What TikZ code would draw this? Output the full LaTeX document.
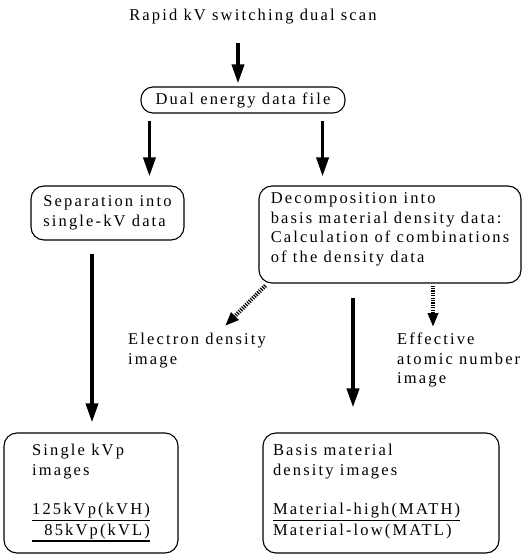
\documentclass[tikz,border=0pt]{standalone}
\usepackage{fontspec}
\setmainfont{Liberation Serif}[LetterSpace=13]
\usetikzlibrary{arrows.meta}
\newsavebox\ulbox
\newcommand\ulpair[2]{\sbox\ulbox{#1}\vtop{\hbox{\usebox\ulbox}\kern1.5pt\hrule height 1.2pt\kern3pt\hbox to \wd\ulbox{\hfill #2}\kern1.5pt\hrule height 1.2pt}}
\newcommand\ulone[2]{\vtop{\hbox{#1}\kern1.5pt\hrule height 1.2pt\kern3pt\hbox{#2}\kern2.7pt}}
\begin{document}
\begin{tikzpicture}[x=1pt,y=-1pt,
 every node/.style={font=\fontsize{16.5}{19.5}\selectfont, inner sep=0pt},
 box/.style={draw, line width=1.1pt, rounded corners=13pt, align=left},
 arr/.style={line width=3.6pt, -{Triangle[length=19pt,width=12pt]}},
 darr/.style={line width=4pt, dash pattern=on 1.2pt off 1.2pt, -{Triangle[length=14pt,width=10pt]}}]
\useasboundingbox (0,0) rectangle (524,556);
\node (title) at (253,17) {Rapid kV switching dual scan};
\node[box, rounded corners=12pt, minimum width=204pt, minimum height=26pt] (dual) at (243,100) {Dual energy data file};
\node[box, minimum width=153pt, minimum height=54pt] (sep) at (107.5,213) {Separation into\\single-kV data};
\node[box, minimum width=262pt, minimum height=97pt] (dec) at (390,234.5) {Decomposition into\\basis material density data:\\Calculation of combinations\\of the density data\rule[-14pt]{0pt}{0pt}};
\node[box, minimum width=174pt, minimum height=120pt] (bl) at (91,493) {Single kVp\\images\\[20pt]\ulpair{125kVp(kVH)}{85kVp(kVL)}};
\node[box, minimum width=236pt, minimum height=120pt] (br) at (381,493) {\makebox[216pt][l]{Basis material}\\density images\\[20pt]\ulone{Material-high(MATH)}{Material-low(MATL)}};
\node[align=left, anchor=north west] (elec) at (128,333) {Electron density\\image};
\node[align=left, anchor=north west] (eff) at (397,333) {Effective\\atomic number\\image};
\draw[arr, shorten <=18pt, shorten >=3pt] ([xshift=-15pt]title.south) -- ([xshift=-15pt]title.south |- dual.north);
\draw[arr, shorten <=7pt, shorten >=9pt] ([xshift=9pt]dual.south west) -- ([xshift=9pt]dual.south west |- sep.north);
\draw[arr, shorten <=7pt, shorten >=9pt] ([xshift=-23pt]dual.south east) -- ([xshift=-23pt]dual.south east |- dec.north);
\draw[arr, shorten <=13pt, shorten >=10pt] ([xshift=-15.5pt]sep.south) -- ([xshift=-15.5pt]sep.south |- bl.north);
\draw[arr, shorten <=14pt, shorten >=25pt] ([xshift=-37pt]dec.south) -- ([xshift=-37pt]dec.south |- br.north);
\draw[darr] ([shift={(7pt,-2pt)}]dec.south west) -- ([shift={(97pt,7pt)}]elec.north west);
\draw[darr, shorten <=2pt, shorten >=6pt] ([xshift=43pt]dec.south) -- ([xshift=43pt]dec.south |- eff.north);
\end{tikzpicture}
\end{document}
